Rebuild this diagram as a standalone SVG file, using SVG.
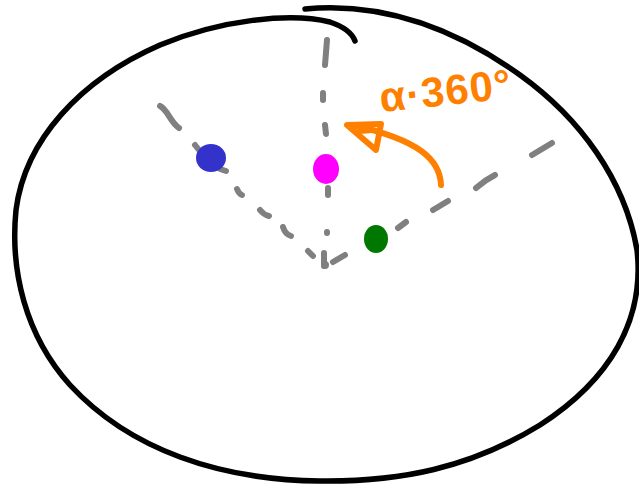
<svg xmlns="http://www.w3.org/2000/svg" width="639" height="488" viewBox="0 0 639 488">
<style>
.outline{fill:none;stroke:#000;stroke-width:5.5;stroke-linecap:round;stroke-linejoin:round}
.axis{fill:none;stroke:#808080;stroke-width:6;stroke-linecap:round}
.arrow{fill:none;stroke:#ff8000;stroke-width:6;stroke-linecap:round;stroke-linejoin:round}
.label{font-family:"Liberation Sans",Arial,sans-serif;font-size:42px;font-weight:bold;fill:#ff8000;letter-spacing:1px}
</style>
<rect width="639" height="488" fill="#fff"/>
<g id="outline">
<path class="outline" d="M305,9 C380,2 450,25 520,75 C580,118 625,180 637,250 C645,320 610,380 540,425 C470,468 400,482 320,481 C220,480 130,450 70,385 C25,335 10,270 16,210 C25,140 80,80 160,45 C220,20 290,12 330,22 C345,27 352,33 355,41"/>
</g>
<g id="connectors">
<path class="axis" d="M327,40 L325,65 M323,93 L323,100 M325,125 L326,134 M328,188 L328,195 M327,232 L327,233 M324,253 L324,266"/>
<path class="axis" d="M160,106 C168,110 170,122 179,128 M195,145 L199,150 M220,169 L226,171 M237,189 Q239,194 242,195 M260,210 Q264,215 269,216 M283,227 Q285,234 291,236 M308,251 L313,256"/>
<path class="axis" d="M333,262 L345,255 M398,228 L406,222 M433,210 L448,201 M476,188 Q485,180 495,175 M532,155 L552,143"/>
<path class="arrow" d="M441,185 C440,160 420,140 352,125"/>
<path class="arrow" d="M347,125 L381,124 L376,150 Z M360,131 L372,130"/>
</g>
<g id="center"><circle cx="325" cy="265" r="4" fill="#808080"/></g>
<g id="blue"><ellipse cx="211" cy="158" rx="15" ry="14" fill="#3333cc"/></g>
<g id="magenta"><ellipse cx="326" cy="169" rx="13" ry="15" fill="#ff00ff"/></g>
<g id="green"><ellipse cx="376" cy="239" rx="12" ry="14" fill="#007700"/></g>
<g id="label"><text class="label" x="381" y="112" transform="rotate(-6 381 112)">α·360°</text></g>
</svg>
